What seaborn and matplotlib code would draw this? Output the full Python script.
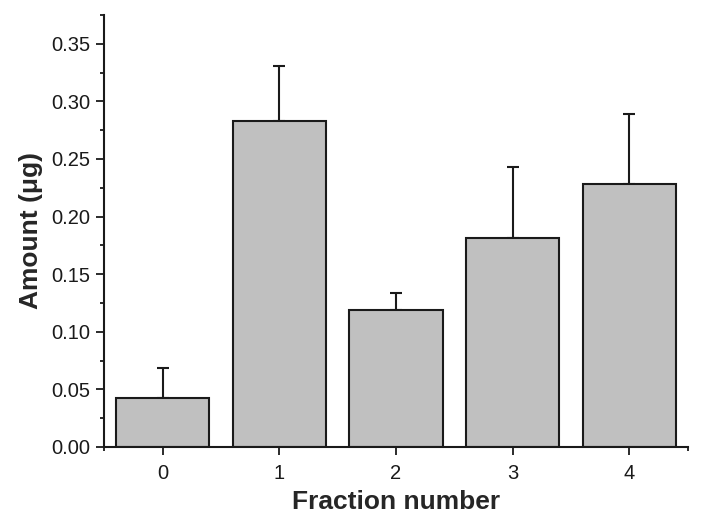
import matplotlib
matplotlib.use("Agg")
from matplotlib import pyplot as plt
import seaborn as sns
import pandas as pd
import numpy as np
import matplotlib.ticker as ticker

# values
fractions = ["0", "1", "2", "3", "4"]
amounts = [0.0425, 0.283, 0.119, 0.181, 0.228]
errors = [0.026, 0.048, 0.015, 0.062, 0.061]

sns.set_style("ticks")
plt.rcParams["font.family"] = ["Liberation Sans", "DejaVu Sans"]

df = pd.DataFrame({"fraction": fractions, "amount": amounts})

fig = plt.figure(figsize=(7.04, 5.27), dpi=100)
ax = fig.add_axes([0.148, 0.152, 0.829, 0.8195])

sns.barplot(
    data=df,
    x="fraction",
    y="amount",
    color="#c0c0c0",
    saturation=1,
    width=0.8,
    edgecolor="#1a1a1a",
    linewidth=1.5,
    errorbar=None,
    ax=ax,
)
# upper-only error bars
ax.errorbar(
    np.arange(len(amounts)),
    amounts,
    yerr=[np.zeros(len(errors)), errors],
    fmt="none",
    ecolor="#1a1a1a",
    elinewidth=1.5,
    capsize=4,
    capthick=1.5,
    zorder=0.5,
)

ax.set_xlim(-0.5, 4.5)
ax.set_ylim(0, 0.375)
ax.yaxis.set_major_locator(ticker.MultipleLocator(0.05))
ax.yaxis.set_minor_locator(ticker.MultipleLocator(0.025))
ax.yaxis.set_major_formatter(ticker.FormatStrFormatter("%.2f"))
ax.xaxis.set_minor_locator(ticker.FixedLocator([-0.5, 4.5]))

sns.despine(ax=ax)
for s in ["left", "bottom"]:
    ax.spines[s].set_linewidth(1.5)
    ax.spines[s].set_color("#1a1a1a")

ax.tick_params(axis="both", which="major", direction="out", length=6, width=1.3,
               labelsize=14.5, colors="#1a1a1a")
ax.tick_params(axis="x", which="major", pad=6)
ax.tick_params(axis="y", which="major", pad=4)
ax.tick_params(axis="both", which="minor", direction="out", length=3, width=1.3,
               colors="#1a1a1a")

ax.set_xlabel("Fraction number", fontsize=19, fontweight="bold", labelpad=5)
ax.set_ylabel("Amount (μg)", fontsize=19, fontweight="bold", labelpad=6)

plt.savefig("out.png", dpi=100)
